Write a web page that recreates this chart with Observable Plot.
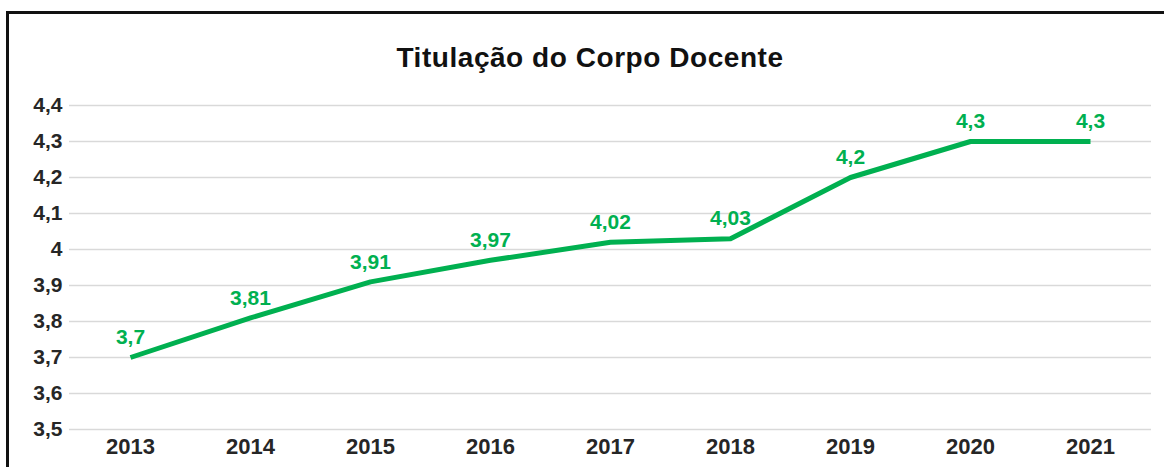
<!DOCTYPE html>
<html>
<head>
<meta charset="utf-8">
<script src="https://cdn.jsdelivr.net/npm/d3@7"></script>
<script src="https://cdn.jsdelivr.net/npm/@observablehq/plot@0.6"></script>
<style>
  html, body { margin: 0; padding: 0; background: #fff; overflow: hidden; }
  #wrap { position: relative; width: 1164px; height: 467px; overflow: hidden; }
  #frame { position: absolute; left: 6px; top: 11px; width: 1200px; height: 520px; border: 3px solid #111; box-sizing: border-box; }
  #title { position: absolute; left: 0; top: 42px; width: 1180px; text-align: center;
           font-family: "Liberation Sans", Arial, sans-serif; font-weight: bold; font-size: 28px;
           color: #111; line-height: 32px; letter-spacing: 0.55px; }
  #chart { position: absolute; left: 0; top: 0; }
</style>
</head>
<body>
<div id="wrap">
  <div id="frame"></div>
  <div id="chart"></div>
  <div id="title">Titulação do Corpo Docente</div>
</div>
<script>
const years = ["2013", "2014", "2015", "2016", "2017", "2018", "2019", "2020", "2021"];
const values = [3.7, 3.81, 3.91, 3.97, 4.02, 4.03, 4.2, 4.3, 4.3];
const yTicks = [3.5, 3.6, 3.7, 3.8, 3.9, 4.0, 4.1, 4.2, 4.3, 4.4];

const fmt = d => String(+(+d).toFixed(2)).replace(".", ",");
const data = years.map((y, i) => ({ year: y, value: values[i] }));

const chart = Plot.plot({
  width: 1164,
  height: 467,
  marginLeft: 69,
  marginRight: 13,
  marginTop: 105,
  marginBottom: 38,
  style: { fontFamily: "'Liberation Sans', Arial, sans-serif", background: "transparent", overflow: "visible" },
  x: { type: "point", domain: years, padding: 0.5, label: null },
  y: { domain: [3.5, 4.4], label: null },
  marks: [
    Plot.gridY(yTicks, { stroke: "#d9d9d9", strokeOpacity: 1, strokeWidth: 1.6 }),
    Plot.axisY(yTicks, { tickSize: 0, tickPadding: 7, tickFormat: fmt, fontSize: 21, fontWeight: "bold", fill: "#262626", label: null }),
    Plot.axisX(years, { tickSize: 0, tickPadding: 9, fontSize: 22, fontWeight: "bold", fill: "#262626", label: null }),
    Plot.line(data, { x: "year", y: "value", stroke: "#00b050", strokeWidth: 5, strokeLinejoin: "round", strokeLinecap: "butt" }),
    Plot.text(data, { x: "year", y: "value", text: d => fmt(d.value), dy: -20, fill: "#00b050", fontSize: 21, fontWeight: "bold" })
  ]
});
document.getElementById("chart").appendChild(chart);
</script>
</body>
</html>
